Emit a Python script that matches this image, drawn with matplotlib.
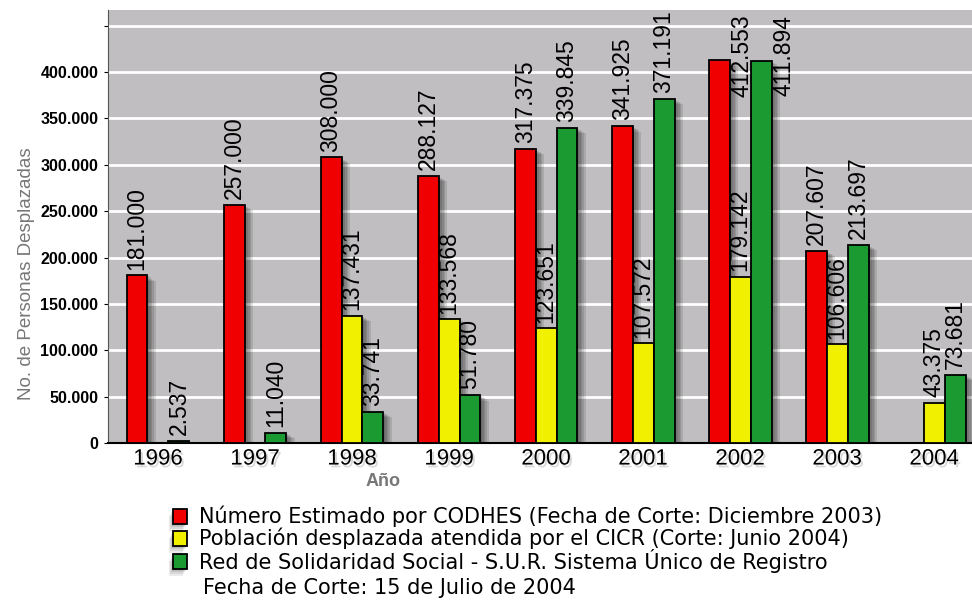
import matplotlib.pyplot as plt
import matplotlib.patheffects as pe
import numpy as np

years = ['1996', '1997', '1998', '1999', '2000', '2001', '2002', '2003', '2004']
codhes = [181000, 257000, 308000, 288127, 317375, 341925, 412553, 207607, None]
cicr = [None, None, 137431, 133568, 123651, 107572, 179142, 106606, 43375]
sur = [2537, 11040, 33741, 51780, 339845, 371191, 411894, 213697, 73681]

series_names = [
    'Número Estimado por CODHES (Fecha de Corte: Diciembre 2003)',
    'Población desplazada atendida por el CICR (Corte: Junio 2004)',
    'Red de Solidaridad Social - S.U.R. Sistema Único de Registro',
]
note = 'Fecha de Corte: 15 de Julio de 2004'
yticks = [0, 50000, 100000, 150000, 200000, 250000, 300000, 350000, 400000, 450000]

colors = ['#f00000', '#f0f000', '#1a9a30']
plt.rcParams['font.family'] = ['Liberation Sans', 'DejaVu Sans']


def fmt(v):
    return f'{v:,}'.replace(',', '.')


def soft_shadow(dx, dy, n=5, a=0.11):
    # stack of faint shadows to fake a blurred drop shadow
    eff = [pe.SimplePatchShadow(offset=(dx * k / n, dy * k / n), shadow_rgbFace='black', alpha=a)
           for k in range(1, n + 1)]
    return eff + [pe.Normal()]


fig = plt.figure(figsize=(9.72, 6.01), dpi=100)
ax = fig.add_axes([108 / 972, 158 / 601, 1 - 108 / 972, 433 / 601])
ax.set_facecolor('#c0bec0')
ymax = 467000
ax.set_ylim(0, ymax)
ax.set_xlim(-0.515, 8.39)

w = 0.216
x = np.arange(len(years))
shadow = soft_shadow(6, -4)

for i, (vals, c) in enumerate(zip([codhes, cicr, sur], colors)):
    off = (i - 1) * w
    for xi, v in zip(x, vals):
        if v is None:
            continue
        ax.bar(xi + off, v, w, color=c, edgecolor='black', linewidth=1.3,
               zorder=3, path_effects=shadow)
        if v > 400000:
            # no room above: chart software pushed these labels right and down
            ax.text(xi + off + w * 1.1, ymax - 5000, fmt(v), rotation=90,
                    ha='center', va='top', fontsize=16.5, zorder=5)
        else:
            ax.text(xi + off, v + 6000, fmt(v), rotation=90, ha='center',
                    va='bottom', fontsize=16.5, zorder=5)

ax.set_yticks(yticks)
ax.set_yticklabels([fmt(t) if t < 450000 else '' for t in yticks],
                   fontsize=11.5, fontweight='bold')
ax.yaxis.grid(True, color='white', linewidth=2, zorder=1)
ax.set_axisbelow(True)
ax.tick_params(axis='y', length=3, pad=4)
ax.set_xticks(x)
ax.set_xticklabels(years, fontsize=16,
                   path_effects=[pe.withSimplePatchShadow(offset=(1.5, -2), alpha=0.15)])
ax.tick_params(axis='x', length=0, pad=4)
for s in ['top', 'right']:
    ax.spines[s].set_visible(False)
ax.spines['left'].set_color('#555555')
ax.spines['bottom'].set_linewidth(1.5)

ax.set_xlabel('Año', fontsize=13, color='#777777', fontweight='bold')
ax.xaxis.set_label_coords((383 - 108) / 864, -0.07)
ax.set_ylabel('No. de Personas Desplazadas', fontsize=13.5, color='#777777')
ax.yaxis.set_label_coords(-0.085, 0.39)

# legend drawn by hand below the axes
rows_y = [516, 538, 561]
for ry, c, name in zip(rows_y, colors, series_names):
    fig.patches.append(plt.Rectangle((173 / 972, 1 - (ry + 8) / 601), 14 / 972, 15 / 601,
                                     transform=fig.transFigure, facecolor=c,
                                     edgecolor='black', linewidth=1.3,
                                     path_effects=soft_shadow(-3, -5, n=4, a=0.08)))
    fig.text(199 / 972, 1 - ry / 601, name, fontsize=15, va='center', family='DejaVu Sans')
fig.text(203 / 972, 1 - 588 / 601, note, fontsize=15, va='center', family='DejaVu Sans')

fig.savefig('out.png', dpi=100)
